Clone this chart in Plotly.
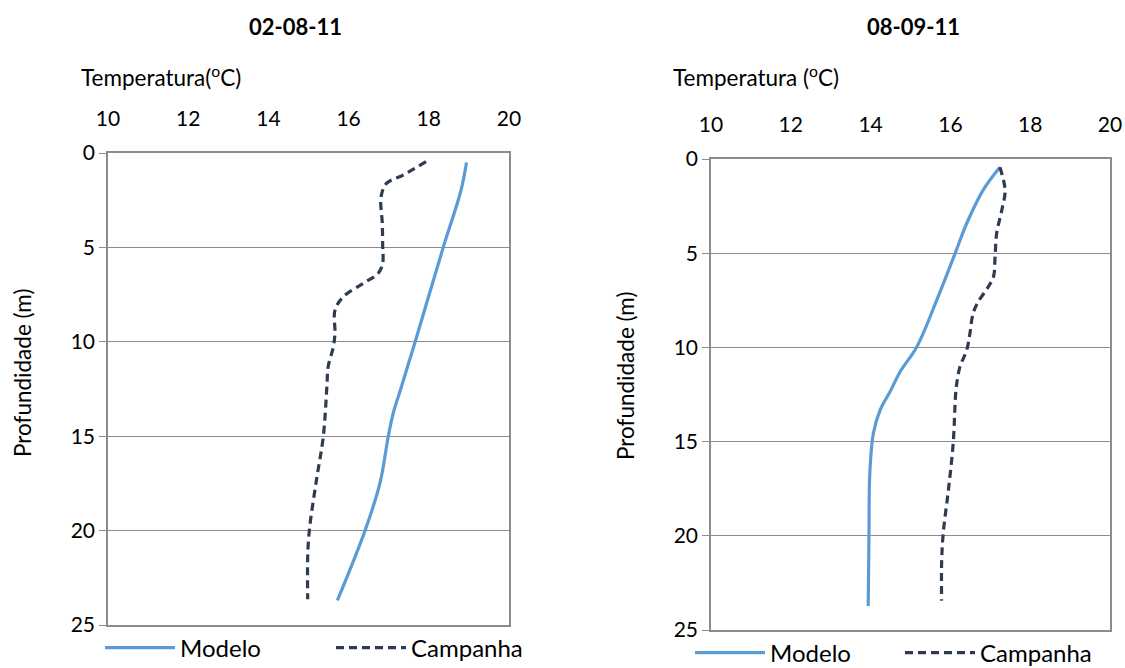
import plotly.graph_objects as go

# ---- data ----
depth_m1_left = [0.5, 2.0, 5.0, 10.0, 12.5, 13.8, 15.0, 17.5, 20.0, 23.7]
temp_m1_left = [18.94, 18.80, 18.36, 17.66, 17.30, 17.11, 16.99, 16.78, 16.41, 15.72]

depth_c_left = [0.46, 1.17, 1.6, 2.31, 3.72, 4.96, 5.84, 6.37, 6.9, 7.61, 8.32, 9.55, 10.26, 11.32, 12.3, 15.0, 17.3, 20.0, 21.4, 23.64]
temp_c_left = [17.93, 17.36, 16.95, 16.81, 16.84, 16.85, 16.85, 16.74, 16.37, 15.87, 15.66, 15.66, 15.62, 15.49, 15.46, 15.37, 15.20, 15.02, 14.98, 14.98]

depth_m_right = [0.44, 1.65, 3.41, 5.0, 7.48, 9.96, 11.29, 12.3, 13.32, 14.56, 16.68, 19.87, 23.73]
temp_m_right = [17.24, 16.82, 16.41, 16.12, 15.66, 15.16, 14.74, 14.50, 14.24, 14.07, 13.98, 13.96, 13.94]

depth_c_right = [0.44, 1.65, 2.7, 3.94, 5.18, 6.25, 6.78, 7.57, 8.19, 9.25, 10.14, 11.02, 11.9, 12.5, 15.09, 17.57, 19.87, 21.46, 23.44]
temp_c_right = [17.24, 17.37, 17.29, 17.16, 17.12, 17.08, 16.95, 16.70, 16.57, 16.49, 16.41, 16.24, 16.16, 16.13, 16.07, 15.95, 15.82, 15.78, 15.78]

titles = ["02-08-11", "08-09-11"]
xtitles = ["Temperatura(<sup>o</sup>C)", "Temperatura (<sup>o</sup>C)"]
ytitle = "Profundidade (m)"
x_ticks = [10, 12, 14, 16, 18, 20]
y_ticks = [0, 5, 10, 15, 20, 25]

FONT = "Lato"
W, H = 1125, 668
BLUE = "#5B9BD5"
DARK = "#2F3B4F"
GRID = "#8C8C8C"


def px(x):
    return x / W


def py(y):
    return 1 - y / H


fig = go.Figure()

fig.add_trace(go.Scatter(x=temp_m1_left, y=depth_m1_left, mode="lines", name="Modelo",
                         line=dict(color=BLUE, width=3.2, shape="spline"),
                         xaxis="x", yaxis="y", legend="legend"))
fig.add_trace(go.Scatter(x=temp_c_left, y=depth_c_left, mode="lines", name="Campanha",
                         line=dict(color=DARK, width=3.2, dash="8px,5px", shape="spline"),
                         xaxis="x", yaxis="y", legend="legend"))
fig.add_trace(go.Scatter(x=temp_m_right, y=depth_m_right, mode="lines", name="Modelo",
                         line=dict(color=BLUE, width=3.2, shape="spline"),
                         xaxis="x2", yaxis="y2", legend="legend2"))
fig.add_trace(go.Scatter(x=temp_c_right, y=depth_c_right, mode="lines", name="Campanha",
                         line=dict(color=DARK, width=3.2, dash="8px,5px", shape="spline"),
                         xaxis="x2", yaxis="y2", legend="legend2"))


def xaxis(domain, anchor):
    return dict(domain=domain, anchor=anchor, range=[10, 20], side="top", automargin=False,
                tickvals=x_ticks, ticks="outside", ticklen=17, tickcolor="rgba(0,0,0,0)",
                ticklabeloverflow="allow",
                showgrid=False, zeroline=False, showline=True, linecolor=GRID, linewidth=1.5,
                mirror=True, tickfont=dict(size=21, color="black", family=FONT), fixedrange=True)


def yaxis(domain, anchor):
    return dict(domain=domain, anchor=anchor, range=[25, 0], tickvals=y_ticks, automargin=False,
                ticks="outside", ticklen=7, tickcolor=GRID, showgrid=True, gridcolor=GRID,
                ticklabeloverflow="allow",
                gridwidth=1, zeroline=False, showline=True, linecolor=GRID, linewidth=1.5,
                mirror=True, tickfont=dict(size=21, color="black", family=FONT), fixedrange=True)


lx = [px(108), px(509)]
ly = [py(625), py(153)]
rx = [px(711), px(1110)]
ry = [py(630), py(159)]

TF = dict(size=22, family=FONT, color="black")
AF = dict(size=22.5, family=FONT, color="black")
annotations = [
    dict(text="<b>" + titles[0] + "</b>", x=px(295), y=py(26), xref="paper", yref="paper",
         xanchor="center", yanchor="middle", showarrow=False, font=TF),
    dict(text="<b>" + titles[1] + "</b>", x=px(913), y=py(26), xref="paper", yref="paper",
         xanchor="center", yanchor="middle", showarrow=False, font=TF),
    dict(text=xtitles[0], x=px(79), y=py(76), xref="paper", yref="paper", xanchor="left",
         yanchor="middle", showarrow=False, font=AF),
    dict(text=xtitles[1], x=px(671), y=py(76), xref="paper", yref="paper", xanchor="left",
         yanchor="middle", showarrow=False, font=AF),
    dict(text=ytitle, x=px(22), y=py(373), xref="paper", yref="paper", textangle=-90,
         xanchor="center", yanchor="middle", showarrow=False, font=AF),
    dict(text=ytitle, x=px(625), y=py(376), xref="paper", yref="paper", textangle=-90,
         xanchor="center", yanchor="middle", showarrow=False, font=AF),
]

LF = dict(size=24, family=FONT, color="black")
fig.update_layout(
    width=W, height=H, autosize=False,
    margin=dict(l=0, r=0, t=0, b=0, pad=0, autoexpand=False),
    paper_bgcolor="white", plot_bgcolor="white",
    font=dict(family=FONT, color="black"),
    xaxis=xaxis(lx, "y"), yaxis=yaxis(ly, "x"),
    xaxis2=xaxis(rx, "y2"), yaxis2=yaxis(ry, "x2"),
    annotations=annotations,
    showlegend=True,
    legend=dict(orientation="h", x=px(100), y=py(648), xanchor="left", yanchor="middle",
                entrywidth=146, entrywidthmode="pixels", font=LF,
                bgcolor="rgba(0,0,0,0)", itemwidth=70),
    legend2=dict(orientation="h", x=px(690), y=py(653), xanchor="left", yanchor="middle",
                 entrywidth=125, entrywidthmode="pixels", font=LF,
                 bgcolor="rgba(0,0,0,0)", itemwidth=70),
)

fig.write_html("out.html", config={"displayModeBar": False},
               post_script="document.body.style.margin='0';document.body.style.overflow='hidden';")
